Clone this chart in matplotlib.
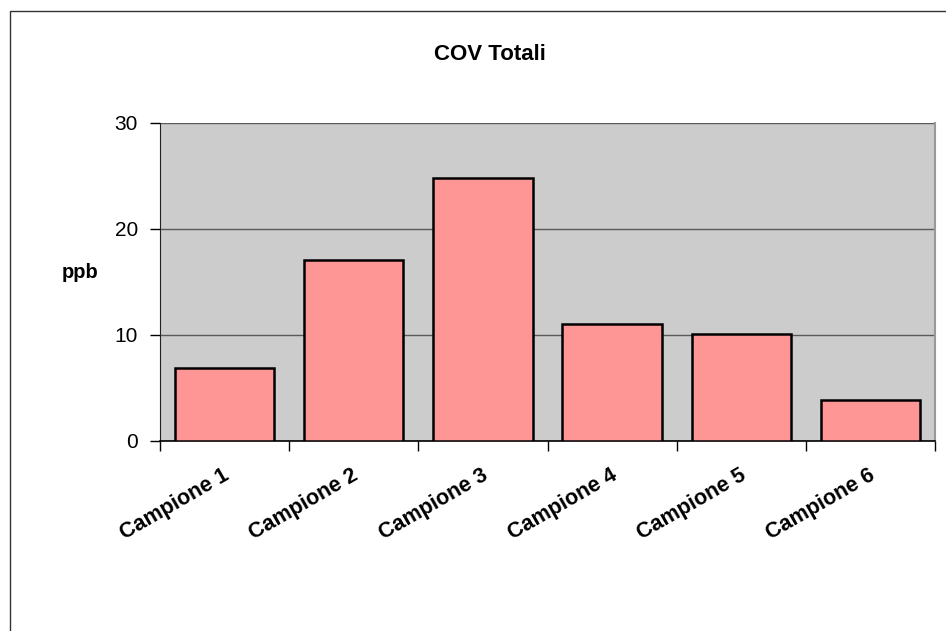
import matplotlib.pyplot as plt
import matplotlib.patches as patches
from matplotlib.ticker import FixedLocator
import matplotlib.transforms as mtransforms

plt.rcParams['font.family'] = ['Liberation Sans', 'DejaVu Sans']

# COV totali per campione (ppb)
campioni = ['Campione 1', 'Campione 2', 'Campione 3', 'Campione 4', 'Campione 5', 'Campione 6']
cov_ppb = [6.9, 17.1, 24.8, 11.0, 10.1, 3.9]
y_ticks = [0, 10, 20, 30]

fig = plt.figure(figsize=(9.46, 6.31), dpi=100)
ax = fig.add_axes([160 / 946, 1 - 441 / 631, 775 / 946, 318 / 631])

# chart frame
fig.patches.append(patches.Rectangle((10 / 946, -0.05), 1.0, 1 - 11 / 631 + 0.05,
                                     transform=fig.transFigure, fill=False,
                                     edgecolor='#333333', linewidth=1.0))

ax.set_facecolor('#CCCCCC')
xpos = list(range(len(campioni)))
ax.bar(xpos, cov_ppb, width=0.77, color='#FF9696', edgecolor='black', linewidth=1.8, zorder=3)

ax.set_xlim(-0.5, len(campioni) - 0.5)
ax.set_ylim(0, 30)
ax.set_yticks(y_ticks)
ax.yaxis.grid(True, color='#5a5a5a', linewidth=1.0, zorder=1)
ax.tick_params(axis='y', length=7, width=1, color='black', labelsize=15, pad=9, direction='out')

# category boundary ticks, labels at the centres
ax.xaxis.set_minor_locator(FixedLocator([i - 0.5 for i in range(len(campioni) + 1)]))
ax.set_xticks(xpos)
ax.set_xticklabels([])
ax.tick_params(axis='x', which='major', length=0)
ax.tick_params(axis='x', which='minor', length=7, width=1, color='black', direction='out')

offset = mtransforms.ScaledTranslation(-2 / 100, -24 / 100, fig.dpi_scale_trans)
for x, name in zip(xpos, campioni):
    ax.text(x, 0, name, transform=ax.transData + offset, rotation=30,
            ha='right', va='top', rotation_mode='anchor',
            fontsize=15.5, fontweight='bold')

ax.spines['top'].set_visible(False)
ax.spines['right'].set_color('#999999')
ax.spines['right'].set_linewidth(1.5)
ax.spines['left'].set_color('#222222')
ax.spines['bottom'].set_color('black')
ax.spines['bottom'].set_linewidth(1.2)

fig.text(490 / 946, 1 - 55 / 631, 'COV Totali', ha='center', va='center',
         fontsize=16, fontweight='bold')
fig.text(80 / 946, 1 - 272 / 631, 'ppb', ha='center', va='center',
         fontsize=14.5, fontweight='bold')

fig.savefig('out.png', dpi=100)
